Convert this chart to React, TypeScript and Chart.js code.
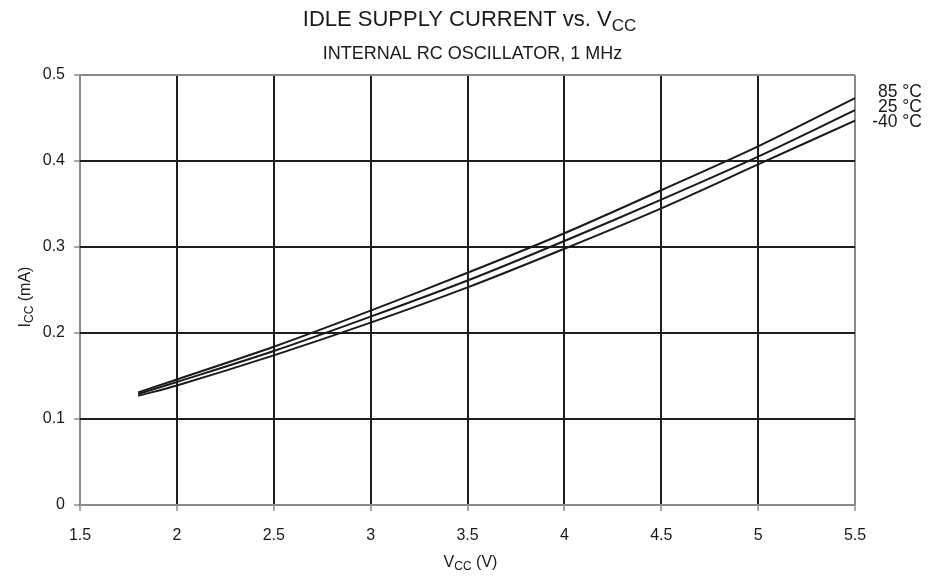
import React, { useEffect, useRef } from "react";
import { Chart, registerables } from "chart.js";

Chart.register(...registerables);

const vcc = [1.8, 2.0, 2.5, 3.0, 3.5, 4.0, 4.5, 5.0, 5.5];
const i85 = [0.131, 0.146, 0.184, 0.226, 0.270, 0.316, 0.366, 0.417, 0.473];
const i25 = [0.129, 0.143, 0.179, 0.219, 0.261, 0.307, 0.355, 0.405, 0.459];
const iM40 = [0.127, 0.139, 0.174, 0.212, 0.253, 0.298, 0.345, 0.396, 0.447];
const seriesLabels = ["85 °C", "25 °C", "-40 °C"];
const xTicks = [1.5, 2, 2.5, 3, 3.5, 4, 4.5, 5, 5.5];
const yTicks = [0, 0.1, 0.2, 0.3, 0.4, 0.5];

const FONT = "'Liberation Sans', Arial, sans-serif";

function drawSub(
  ctx: CanvasRenderingContext2D,
  main: string,
  sub: string,
  tail: string,
  cx: number,
  y: number,
  size: number,
  subSize: number,
  subDy: number
) {
  ctx.font = `${size}px ${FONT}`;
  const w1 = ctx.measureText(main).width;
  const w3 = ctx.measureText(tail).width;
  ctx.font = `${subSize}px ${FONT}`;
  const w2 = ctx.measureText(sub).width;
  const start = cx - (w1 + w2 + w3) / 2;
  ctx.textAlign = "left";
  ctx.font = `${size}px ${FONT}`;
  ctx.fillText(main, start, y);
  ctx.fillText(tail, start + w1 + w2, y);
  ctx.font = `${subSize}px ${FONT}`;
  ctx.fillText(sub, start + w1, y + subDy);
}

const textPlugin = {
  id: "texts",
  afterDraw(chart: any) {
    const ctx = chart.ctx as CanvasRenderingContext2D;
    const a = chart.chartArea;
    const cx = (a.left + a.right) / 2;
    ctx.save();
    ctx.fillStyle = "#1a1a1a";
    ctx.textBaseline = "alphabetic";
    // title
    drawSub(ctx, "IDLE SUPPLY CURRENT vs. V", "CC", "", cx + 2, 26, 22, 17, 5);
    ctx.font = `18px ${FONT}`;
    ctx.textAlign = "center";
    ctx.fillText("INTERNAL RC OSCILLATOR, 1 MHz", cx + 5, 59);
    // x title
    drawSub(ctx, "V", "CC", " (V)", cx + 3, 567, 16, 12, 3);
    // y title rotated
    ctx.save();
    ctx.translate(30, 297);
    ctx.rotate(-Math.PI / 2);
    drawSub(ctx, "I", "CC", " (mA)", 0, 0, 16, 12, 3);
    ctx.restore();
    // series labels
    ctx.font = `17.5px ${FONT}`;
    ctx.textAlign = "right";
    seriesLabels.forEach((t, i) => {
      ctx.fillText(t, a.right + 67, 97 + i * 15);
    });
    ctx.restore();
  },
};

export default function App() {
  const ref = useRef<HTMLCanvasElement>(null);
  useEffect(() => {
    document.body.style.margin = "0";
    const mk = (d: number[]) => vcc.map((x, i) => ({ x, y: d[i] }));
    const ds = [i85, i25, iM40].map((d, i) => ({
      label: seriesLabels[i],
      data: mk(d),
      borderColor: "#1a1a1a",
      borderWidth: 2,
      pointRadius: 0,
      tension: 0.3,
      fill: false,
    }));
    const edgeColor = (v: number, lo: number, hi: number) =>
      Math.abs(v - lo) < 1e-6 || Math.abs(v - hi) < 1e-6 ? "#8a8a8a" : "#1e1e1e";
    const chart = new Chart(ref.current!, {
      type: "line",
      data: { datasets: ds as any },
      plugins: [textPlugin],
      options: {
        animation: false,
        responsive: false,
        layout: { padding: { left: 0, top: 75, right: 76, bottom: 0 } },
        plugins: { legend: { display: false }, tooltip: { enabled: false } },
        scales: {
          x: {
            type: "linear",
            min: 1.5,
            max: 5.5,
            afterBuildTicks: (s: any) => {
              s.ticks = xTicks.map((v) => ({ value: v }));
            },
            afterFit: (s: any) => {
              s.height = 79;
            },
            grid: {
              color: (c: any) => edgeColor(c.tick?.value ?? 0, 1.5, 5.5),
              lineWidth: 2,
              tickLength: 6,
              tickColor: "#555",
              tickWidth: 1,
            },
            border: { display: false },
            ticks: {
              color: "#1a1a1a",
              font: { family: FONT, size: 16 },
              padding: 15,
              maxRotation: 0,
              callback: (v: any) => String(v),
            },
          },
          y: {
            type: "linear",
            min: 0,
            max: 0.5,
            afterBuildTicks: (s: any) => {
              s.ticks = yTicks.map((v) => ({ value: v }));
            },
            afterFit: (s: any) => {
              s.width = 80;
            },
            grid: {
              color: (c: any) => edgeColor(c.tick?.value ?? 0, 0, 0.5),
              lineWidth: 2,
              tickLength: 6,
              tickColor: "#555",
              tickWidth: 1,
            },
            border: { display: false },
            ticks: {
              color: "#1a1a1a",
              font: { family: FONT, size: 16 },
              padding: 9,
              callback: (v: any) => String(v),
            },
          },
        },
      },
    });
    return () => chart.destroy();
  }, []);
  return (
    <div style={{ width: 931, height: 584, background: "#fff" }}>
      <canvas ref={ref} width={931} height={584} style={{ display: "block" }} />
    </div>
  );
}
